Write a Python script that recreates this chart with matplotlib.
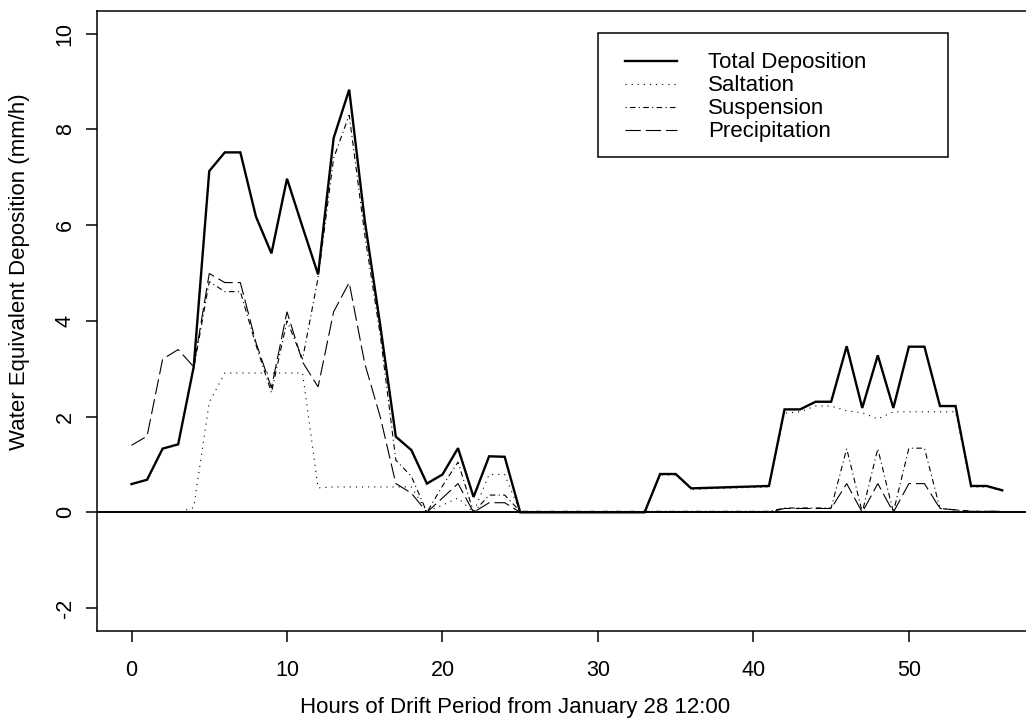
import matplotlib
matplotlib.use("Agg")
import matplotlib.pyplot as plt
from matplotlib.lines import Line2D
from matplotlib.patches import Rectangle
import numpy as np

plt.rcParams['font.family'] = ['Liberation Sans', 'DejaVu Sans']
plt.rcParams['lines.scale_dashes'] = False

nan = np.nan
hours = list(range(57))

total = [0.59, 0.68, 1.33, 1.42, 3.04, 7.13, 7.52, 7.52, 6.18, 5.41,
         6.97, 5.96, 4.97, 7.82, 8.83, 6.10, 3.90, 1.58, 1.30, 0.60,
         0.79, 1.34, 0.32, 1.17, 1.16, 0.0, 0.0, 0.0, 0.0, 0.0,
         0.0, 0.0, 0.0, 0.0, 0.80, 0.80, 0.50, 0.51, 0.52, 0.53,
         0.54, 0.55, 2.15, 2.15, 2.31, 2.31, 3.47, 2.18, 3.28, 2.18,
         3.46, 3.46, 2.22, 2.22, 0.55, 0.55, 0.46]

saltation = [0.0, 0.0, 0.0, 0.0, 0.10, 2.30, 2.91, 2.91, 2.91, 2.91,
             2.91, 2.91, 0.51, 0.53, 0.53, 0.53, 0.53, 0.53, 0.53, 0.02,
             0.15, 0.30, 0.0, 0.79, 0.79, 0.0, 0.0, 0.0, 0.0, 0.0,
             0.0, 0.0, 0.0, 0.0, 0.78, 0.78, 0.48, 0.49, 0.50, 0.51,
             0.52, 0.53, 2.07, 2.10, 2.22, 2.22, 2.12, 2.08, 1.95, 2.10,
             2.10, 2.10, 2.10, 2.10, 0.53, 0.53, 0.45]

suspension = [nan, nan, nan, nan, 3.00, 4.82, 4.61, 4.61, 3.50, 2.50,
              4.00, 3.20, 4.90, 7.40, 8.30, 5.80, 3.70, 1.09, 0.75, 0.0,
              0.55, 1.05, 0.0, 0.36, 0.36, 0.02, 0.02, 0.02, 0.02, 0.02,
              0.02, 0.02, 0.02, 0.02, 0.02, 0.02, 0.02, 0.02, 0.02, 0.02,
              0.02, 0.02, 0.09, 0.09, 0.09, 0.09, 1.33, 0.0, 1.33, 0.0,
              1.34, 1.34, 0.08, 0.05, 0.02, 0.02, 0.02]

precipitation = [1.40, 1.59, 3.20, 3.40, 3.04, 4.99, 4.80, 4.80, 3.55, 2.60,
                 4.19, 3.14, 2.62, 4.19, 4.80, 3.11, 1.99, 0.60, 0.40, 0.0,
                 0.30, 0.60, 0.0, 0.20, 0.20, 0.0, 0.0, 0.0, 0.0, 0.0,
                 0.0, 0.0, 0.0, 0.0, 0.0, 0.0, 0.0, 0.0, 0.0, 0.0,
                 0.0, 0.0, 0.08, 0.08, 0.08, 0.08, 0.60, 0.0, 0.60, 0.0,
                 0.60, 0.60, 0.08, 0.05, 0.02, 0.02, 0.02]

labels = ["Total Deposition", "Saltation", "Suspension", "Precipitation"]
xticks = [0, 10, 20, 30, 40, 50]
yticks = [-2, 0, 2, 4, 6, 8, 10]

W, H = 1026, 726
FS = 16
fig = plt.figure(figsize=(W / 100, H / 100), dpi=100)

def fx(px):
    return px / W

def fy(py):
    return 1 - py / H

ax_l, ax_r, ax_t, ax_b = 96.7, 1037.0, 10.7, 631.0
ax = fig.add_axes([fx(ax_l), fy(ax_b), (ax_r - ax_l) / W, (ax_b - ax_t) / H])

styles = [
    dict(color='black', lw=1.7, linestyle='-'),
    dict(color='black', lw=0.8, linestyle=(0, (0.8, 3.6))),
    dict(color='black', lw=0.8, linestyle=(0, (0.8, 2.4, 4.0, 2.4))),
    dict(color='black', lw=0.8, linestyle=(0, (11.0, 3.6))),
]
series = [total, saltation, suspension, precipitation]
for s, st in zip(series, styles):
    ax.plot(hours, s, solid_joinstyle='miter', dash_joinstyle='miter', **st)

ax.axhline(0, color='black', lw=1.4)

ax.set_xlim(-2.24, 58.24)
ax.set_ylim(-2.48, 10.48)
ax.set_xticks(xticks)
ax.set_yticks(yticks)
ax.set_xticklabels([str(v) for v in xticks])
ax.set_yticklabels([str(v) for v in yticks], rotation=90, va='center')
ax.tick_params(direction='out', length=8, width=1.1, labelsize=FS - 0.5, colors='black')
ax.tick_params(axis='x', pad=13)
ax.tick_params(axis='y', pad=7)
for sp in ax.spines.values():
    sp.set_linewidth(1.1)

fig.text(fx(515), fy(708), "Hours of Drift Period from January 28 12:00",
         ha='center', va='center', fontsize=FS)
fig.text(fx(20), fy(272), "Water Equivalent Deposition (mm/h)",
         ha='center', va='center', rotation=90, fontsize=FS)

# legend box
lx0, ly0, lx1, ly1 = 598, 33, 948, 157
fig.patches.append(Rectangle((fx(lx0), fy(ly1)), (lx1 - lx0) / W, (ly1 - ly0) / H,
                             transform=fig.transFigure, facecolor='white',
                             edgecolor='black', lw=1.1, zorder=5))
rows = [61, 84, 107, 130]
for lab, st, ry in zip(labels, styles, rows):
    fig.lines.append(Line2D([fx(625), fx(677)], [fy(ry), fy(ry)],
                            transform=fig.transFigure, zorder=6, **st))
    fig.text(fx(708), fy(ry + 1.5), lab, ha='left', va='center', fontsize=FS, zorder=6)

fig.savefig("out.png", dpi=100)
